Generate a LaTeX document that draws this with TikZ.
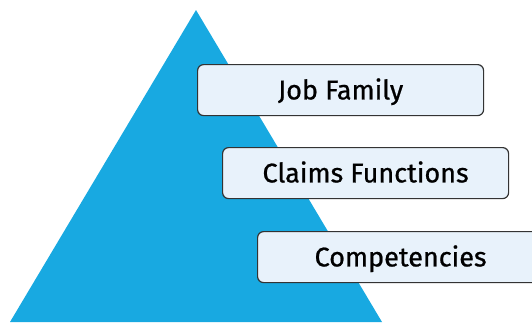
\documentclass[tikz,border=0pt]{standalone}
\usepackage{fontspec}
\setmainfont{Fira Sans}[FakeBold=0.8,UprightFeatures={FakeBold=0.8}]
\definecolor{pyramidblue}{HTML}{18A9E1}
\definecolor{boxfill}{HTML}{E8F2FB}
\definecolor{boxline}{HTML}{333333}

\begin{document}
\begin{tikzpicture}[x=1pt,y=-1pt,level/.style={font=\fontsize{27}{30}\selectfont,text height=18.6pt,text depth=0pt,minimum height=51pt,minimum width=286pt,draw=boxline,line width=1.2pt,fill=boxfill,rounded corners=6pt,inner sep=0pt}]
      \useasboundingbox (0,0) rectangle (532,322);
      \fill[pyramidblue] (196,10) -- (382,322) -- (10,322) -- cycle;
      \begin{scope}
      \clip (0,0) rectangle (532,322);
      \node[level,anchor=north west] (level 1) at (197,64) {Job Family};
      \node[level,anchor=north west] (level 2) at (222,147) {Claims Functions};
      \node[level,anchor=north west] (level 3) at (257,231) {Competencies};
      \end{scope}
    \end{tikzpicture}
\end{document}
